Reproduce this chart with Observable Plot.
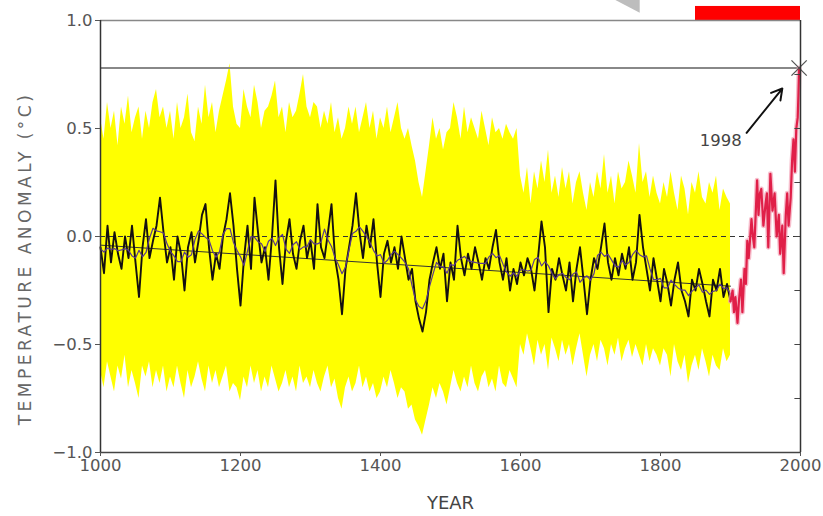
<!DOCTYPE html>
<html><head><meta charset="utf-8">
<script src="https://cdn.jsdelivr.net/npm/d3@7"></script>
<script src="https://cdn.jsdelivr.net/npm/@observablehq/plot@0.6"></script>
<style>
body{margin:0;background:#fff;}
svg{font-family:"DejaVu Sans",Arial,sans-serif;}
</style>
</head><body><div id="chart"></div>
<script>
const startYear = 1000, stepYears = 5;
const recon = [
-0.05,-0.17,0.05,-0.12,0.02,-0.08,-0.15,0.0,-0.1,0.05,-0.12,-0.28,-0.05,0.08,-0.1,-0.02,0.05,0.18,0.02,-0.12,
-0.05,-0.2,0.0,-0.08,-0.25,-0.05,0.02,-0.12,-0.02,0.1,0.15,-0.05,-0.2,-0.08,-0.15,0.0,0.08,0.2,0.05,-0.15,
-0.32,-0.1,0.05,-0.15,0.18,0.02,-0.12,-0.05,-0.2,0.0,0.26,-0.05,-0.22,-0.02,0.08,-0.08,-0.15,-0.02,0.05,-0.1,
-0.02,-0.15,0.15,-0.05,-0.1,0.02,0.15,-0.1,-0.2,-0.36,-0.15,-0.05,0.05,0.2,0.02,-0.1,0.05,-0.05,0.08,-0.12,
-0.28,-0.08,-0.02,-0.12,-0.05,-0.15,0.0,-0.1,-0.2,-0.15,-0.3,-0.38,-0.44,-0.35,-0.2,-0.12,-0.05,-0.15,-0.08,-0.3,
-0.12,-0.2,0.05,-0.1,-0.18,-0.08,-0.15,-0.05,-0.12,-0.2,-0.1,-0.15,-0.05,0.03,-0.12,-0.2,-0.1,-0.25,-0.15,-0.22,
-0.12,-0.18,-0.1,-0.15,-0.25,-0.1,0.07,-0.05,-0.35,-0.15,-0.2,-0.1,-0.18,-0.25,-0.12,-0.3,-0.15,-0.05,-0.2,-0.36,
-0.2,-0.1,-0.15,-0.05,0.06,-0.12,-0.2,-0.1,-0.18,-0.08,-0.15,-0.05,-0.2,-0.12,0.1,-0.05,-0.15,-0.25,-0.1,-0.2,
-0.3,-0.15,-0.22,-0.32,-0.2,-0.12,-0.25,-0.3,-0.37,-0.2,-0.25,-0.15,-0.22,-0.3,-0.37,-0.2,-0.25,-0.15,-0.28,-0.22,-0.3
];
const upper = [
0.55,0.45,0.62,0.5,0.58,0.42,0.6,0.52,0.65,0.48,0.55,0.6,0.45,0.58,0.5,0.62,0.68,0.55,0.6,0.5,
0.58,0.45,0.62,0.5,0.55,0.66,0.48,0.44,0.6,0.52,0.7,0.55,0.62,0.48,0.58,0.65,0.72,0.8,0.6,0.52,
0.5,0.68,0.6,0.55,0.7,0.62,0.5,0.58,0.6,0.65,0.72,0.55,0.6,0.48,0.62,0.55,0.58,0.66,0.75,0.6,
0.55,0.62,0.6,0.5,0.58,0.52,0.62,0.48,0.55,0.45,0.5,0.6,0.52,0.6,0.48,0.55,0.62,0.5,0.58,0.45,
0.55,0.5,0.6,0.48,0.55,0.62,0.5,0.45,0.5,0.42,0.35,0.25,0.18,0.3,0.42,0.55,0.45,0.5,0.4,0.48,
0.5,0.62,0.55,0.45,0.6,0.48,0.55,0.5,0.45,0.58,0.5,0.42,0.55,0.48,0.5,0.45,0.52,0.48,0.45,0.5,
0.28,0.2,0.32,0.15,0.3,0.22,0.35,0.25,0.4,0.2,0.28,0.18,0.32,0.22,0.3,0.15,0.25,0.3,0.2,0.12,
0.25,0.18,0.3,0.22,0.38,0.2,0.28,0.15,0.3,0.22,0.25,0.35,0.28,0.2,0.43,0.25,0.3,0.18,0.28,0.2,
0.15,0.25,0.18,0.3,0.2,0.12,0.28,0.22,0.1,0.25,0.2,0.3,0.18,0.15,0.25,0.2,0.28,0.12,0.22,0.18,0.15
];
const lower = [
-0.62,-0.7,-0.58,-0.65,-0.72,-0.6,-0.66,-0.55,-0.7,-0.62,-0.68,-0.75,-0.6,-0.65,-0.58,-0.7,-0.62,-0.68,-0.6,-0.72,
-0.65,-0.7,-0.6,-0.68,-0.75,-0.62,-0.7,-0.65,-0.58,-0.66,-0.72,-0.6,-0.68,-0.62,-0.7,-0.65,-0.6,-0.72,-0.68,-0.7,
-0.76,-0.65,-0.7,-0.6,-0.68,-0.62,-0.72,-0.65,-0.7,-0.6,-0.66,-0.72,-0.68,-0.62,-0.7,-0.65,-0.72,-0.6,-0.68,-0.65,
-0.7,-0.62,-0.68,-0.72,-0.65,-0.6,-0.7,-0.66,-0.75,-0.8,-0.7,-0.65,-0.72,-0.68,-0.6,-0.7,-0.65,-0.72,-0.68,-0.75,
-0.72,-0.65,-0.7,-0.62,-0.68,-0.75,-0.7,-0.72,-0.8,-0.78,-0.85,-0.88,-0.92,-0.85,-0.78,-0.7,-0.75,-0.68,-0.72,-0.78,
-0.7,-0.62,-0.68,-0.72,-0.65,-0.7,-0.6,-0.68,-0.72,-0.65,-0.62,-0.7,-0.66,-0.72,-0.6,-0.68,-0.7,-0.62,-0.66,-0.7,
-0.5,-0.55,-0.45,-0.52,-0.6,-0.48,-0.55,-0.5,-0.62,-0.47,-0.52,-0.58,-0.48,-0.55,-0.5,-0.6,-0.52,-0.45,-0.55,-0.65,
-0.55,-0.5,-0.58,-0.48,-0.52,-0.6,-0.5,-0.55,-0.47,-0.58,-0.52,-0.48,-0.56,-0.5,-0.55,-0.6,-0.5,-0.58,-0.52,-0.55,
-0.6,-0.52,-0.55,-0.65,-0.5,-0.58,-0.62,-0.55,-0.68,-0.6,-0.55,-0.62,-0.52,-0.58,-0.65,-0.55,-0.6,-0.62,-0.52,-0.58,-0.55
];
const instYears = [1900,1903,1905,1907,1910,1912,1915,1917,1920,1922,1924,1926,1930,1932,1934,1938,1940,1942,1944,1947,1950,1952,1954,1957,1960,1963,1966,1969,1971,1974,1976,1979,1981,1983,1986,1988,1990,1992,1994,1996,1997,1998];
const instVals  = [-0.3,-0.25,-0.35,-0.28,-0.4,-0.3,-0.2,-0.35,-0.15,-0.22,-0.02,-0.1,0.08,0.0,-0.05,0.26,0.1,0.2,0.22,0.05,0.15,0.2,-0.05,0.29,0.12,0.2,0.0,0.1,-0.08,0.05,-0.17,0.1,0.2,0.05,0.18,0.35,0.45,0.3,0.5,0.55,0.65,0.78];
const trendYears = [1000,1900];
const trendVals = [-0.04,-0.23];
const peakLevel = 0.78;
const peakYear = 1998;
const peakLabel = "1998";
const yTicks = [-1,-0.5,0,0.5,1];
const xTicks = [1000,1200,1400,1600,1800,2000];
const rightTicks = [-0.75,-0.5,-0.25,0,0.25,0.5,0.75];
const yLabel = "TEMPERATURE ANOMALY (\u00B0C)";
const xLabel = "YEAR";

const recData = recon.map((v,i)=>({year:startYear+stepYears*i, v, hi:upper[i], lo:lower[i]}));
const instData = instYears.map((y,i)=>({year:y, v:instVals[i]}));
const trendData = trendYears.map((y,i)=>({year:y, v:trendVals[i]}));

const fontFam = '"DejaVu Sans",Arial,sans-serif';
const plot = Plot.plot({
  width:823, height:516,
  marginLeft:100, marginRight:23, marginTop:20, marginBottom:64,
  x:{domain:[1000,2000]},
  y:{domain:[-1,1]},
  style:{fontFamily:fontFam, background:"#fff"},
  marks:[
    Plot.areaY(recData,{x:"year", y1:"lo", y2:"hi", fill:"#ffff00"}),
    Plot.ruleY([0],{stroke:"#333", strokeDasharray:"5,4", strokeWidth:1}),
    Plot.ruleY([peakLevel],{stroke:"#888", strokeWidth:2}),
    Plot.lineY(trendData,{x:"year", y:"v", stroke:"#333", strokeWidth:1}),
    Plot.lineY(recData,{x:"year", y:"v", stroke:"#141010", strokeWidth:1.9}),
    Plot.lineY(recData, Plot.windowY({k:5, anchor:"middle"},{x:"year", y:"v", stroke:"#5b3b8c", strokeWidth:1.2})),
    Plot.lineY(instData,{x:"year", y:"v", stroke:"#f4a3b6", strokeWidth:5, strokeOpacity:0.7}),
    Plot.lineY(instData,{x:"year", y:"v", stroke:"#e01f48", strokeWidth:2.2}),
    Plot.dot([{year:peakYear, v:peakLevel}],{x:"year", y:"v", symbol:"times", r:7, stroke:"#555", strokeWidth:1.3}),
    Plot.arrow([{x1:1923,y1:0.48,x2:1974,y2:0.685}],{x1:"x1",y1:"y1",x2:"x2",y2:"y2", stroke:"#111", strokeWidth:2, headLength:9}),
    Plot.text([peakLabel],{x:1886, y:0.444, fontSize:16.5, fill:"#444"}),
    Plot.rect([{a:1850,b:2000}],{x1:"a", x2:"b", y1:1.0, y2:1.065, fill:"#ff0000"}),
    Plot.area([{year:1736, lo:1.093, hi:1.093},{year:1771, lo:1.033, hi:1.093}],{x1:"year", y1:"lo", y2:"hi", fill:"#bdbdbd"}),
    Plot.ruleY(rightTicks,{x1:1992, x2:2000, stroke:"#444", strokeWidth:1}),
    Plot.ruleY([1],{stroke:"#888", strokeWidth:1.5}),
    Plot.ruleY([-1],{stroke:"#444", strokeWidth:1.5}),
    Plot.ruleX([1000,2000],{stroke:"#333", strokeWidth:1.5}),
    Plot.axisY({ticks:yTicks, tickFormat:d3.format(".1f"), tickSize:5, tickPadding:3, fontSize:16.5, label:null, color:"#555"}),
    Plot.axisX({ticks:xTicks, tickFormat:d=>String(d), tickSize:4, tickPadding:3, fontSize:16.5, label:null, color:"#555"}),
    Plot.text([yLabel],{frameAnchor:"left", dx:-75, dy:22, rotate:-90, textAnchor:"middle", lineAnchor:"middle", fontSize:17, fill:"#666"}),
    Plot.text([xLabel],{frameAnchor:"bottom", dy:51, lineAnchor:"middle", fontSize:18, fill:"#444"})
  ]
});
d3.select(plot).selectAll("text").filter(function(){return this.textContent===yLabel;}).style("letter-spacing","3.5px");
document.getElementById("chart").appendChild(plot);
</script></body></html>
